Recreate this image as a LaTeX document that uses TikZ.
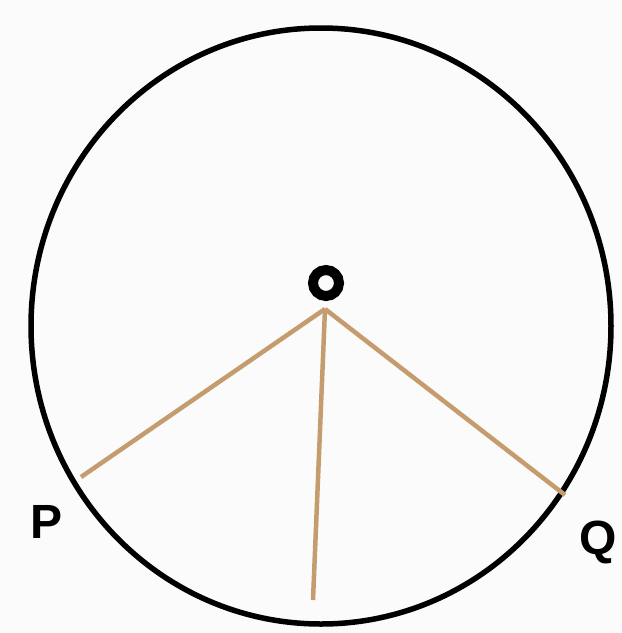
\documentclass[tikz,border=0pt]{standalone}
\usepackage{fontspec}
\setmainfont{Liberation Sans}
\begin{document}
\begin{tikzpicture}[x=1pt,y=-1pt,
  chord/.style={draw={rgb,255:red,196;green,156;blue,110},line width=4.5pt},
  lbl/.style={font=\fontsize{48}{48}\selectfont\bfseries,inner sep=0pt}]
\useasboundingbox (0,0) rectangle (622,633);
\fill[white!97!gray] (0,0) rectangle (622,633);
\draw[line width=5.5pt] (321,326) ellipse [x radius=290, y radius=298];
\coordinate (V) at (325,309);
\coordinate (P) at (81,477);
\coordinate (Q) at (565,495);
\coordinate (B) at (313,600);
\draw[chord] (V) -- (P);
\draw[chord] (V) -- (Q);
\draw[chord] (V) -- (B);
\draw[line width=10pt] (326,283) circle (13);
\node[lbl] (pl) at (47,522) {P};
\node[lbl] (ql) at (598,542) {Q};
\end{tikzpicture}
\end{document}
